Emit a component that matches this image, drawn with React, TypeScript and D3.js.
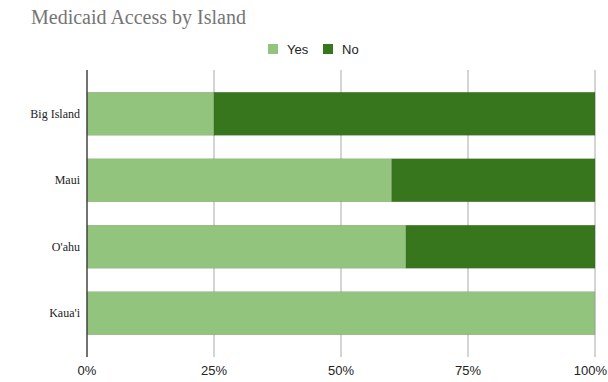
import React from "react";
import * as d3 from "d3";

const islands = ["Big Island", "Maui", "O'ahu", "Kaua'i"];
const yesValues = [0.25, 0.6, 0.628, 1.0];
const noValues = [0.75, 0.4, 0.372, 0.0];
const seriesNames = ["Yes", "No"];
const seriesColors = ["#93c47d", "#38761d"];
const xTicks = [0, 0.25, 0.5, 0.75, 1];
const title = "Medicaid Access by Island";

const W = 608;
const H = 382;
const left = 87;
const right = 595;
const top = 70;
const bottom = 357;

export default function App() {
  const x = d3.scaleLinear().domain([0, 1]).range([left, right]);
  const y = d3
    .scaleBand<string>()
    .domain(islands)
    .range([top, bottom])
    .paddingInner(0.353)
    .paddingOuter(0.335);

  const rows = islands.map((name, i) => ({ name, vals: [yesValues[i], noValues[i]] }));
  const stack = d3.stack<any>().keys(["0", "1"]).value((d: any, k: string) => d.vals[+k]);
  const stacked = stack(rows as any);
  const fmt = d3.format(".0%");

  return (
    <svg
      width={W}
      height={H}
      style={{ position: "absolute", left: 0, top: 0, background: "#fff" }}
    >
      <text
        x={31}
        y={24}
        fontFamily="Liberation Serif, Times New Roman, serif"
        fontSize={20}
        fill="#757575"
      >
        {title}
      </text>

      {/* legend */}
      {seriesNames.map((s, i) => {
        const lx = [268, 323][i];
        return (
          <g key={s}>
            <rect x={lx} y={44} width={10} height={10} fill={seriesColors[i]} />
            <text
              x={lx + 19}
              y={53.5}
              fontFamily="Liberation Sans, Arial, sans-serif"
              fontSize={13}
              fill="#222"
            >
              {s}
            </text>
          </g>
        );
      })}

      {/* gridlines */}
      {xTicks.slice(1).map((t) => (
        <line
          key={t}
          x1={x(t)}
          x2={x(t)}
          y1={top}
          y2={bottom}
          stroke="#b7b7b7"
          strokeWidth={1.2}
        />
      ))}

      {/* bars */}
      {stacked.map((layer, si) =>
        layer.map((seg, i) => {
          const w = x(seg[1]) - x(seg[0]);
          if (w <= 0) return null;
          return (
            <rect
              key={si + "-" + i}
              x={x(seg[0])}
              y={y(islands[i])}
              width={w}
              height={y.bandwidth()}
              fill={seriesColors[si]}
              stroke="rgba(0,0,0,0.18)"
              strokeWidth={0.6}
            />
          );
        })
      )}

      {/* zero axis */}
      <line x1={left} x2={left} y1={top} y2={bottom} stroke="#444" strokeWidth={1.5} />

      {/* category labels */}
      {islands.map((name) => (
        <text
          key={name}
          x={80}
          y={(y(name) as number) + y.bandwidth() / 2}
          dy="0.35em"
          textAnchor="end"
          fontFamily="Liberation Serif, Times New Roman, serif"
          fontSize={12}
          fill="#222"
        >
          {name}
        </text>
      ))}

      {/* x tick labels */}
      {xTicks.map((t, i) => (
        <text
          key={t}
          x={i === xTicks.length - 1 ? W - 1 : x(t)}
          y={375}
          textAnchor={i === xTicks.length - 1 ? "end" : "middle"}
          fontFamily="Liberation Sans, Arial, sans-serif"
          fontSize={13}
          fill="#222"
        >
          {fmt(t)}
        </text>
      ))}
    </svg>
  );
}
